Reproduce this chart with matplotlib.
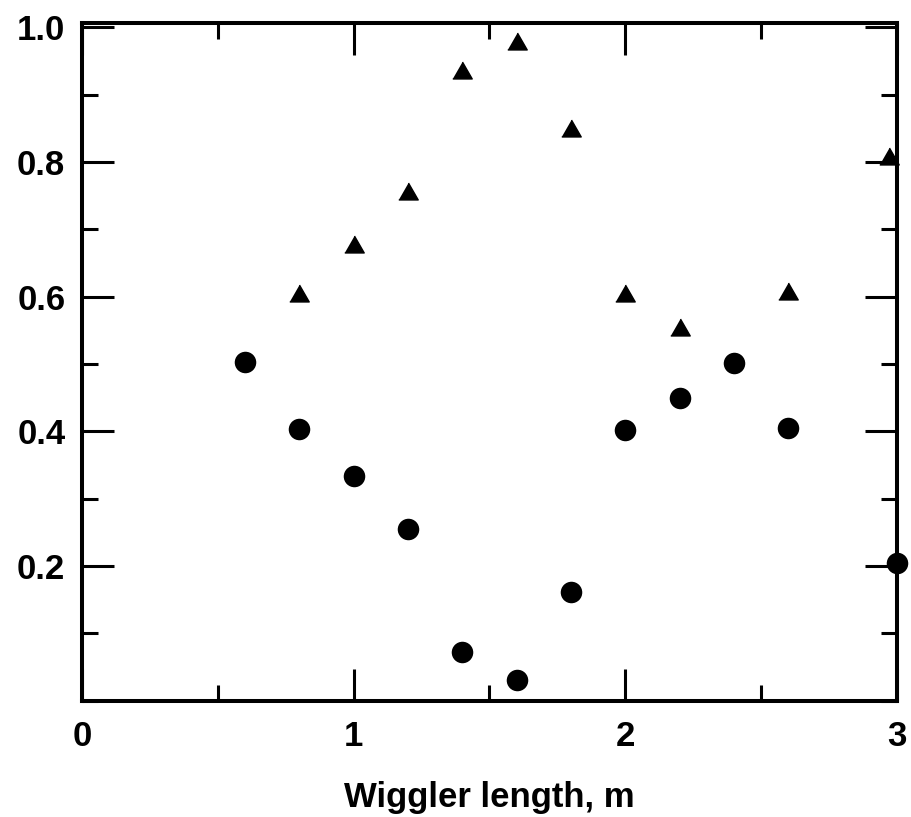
import matplotlib
matplotlib.use("Agg")
import matplotlib.pyplot as plt
from matplotlib.ticker import MultipleLocator, FixedLocator

# Data
tri_x = [0.8, 1.0, 1.2, 1.4, 1.6, 1.8, 2.0, 2.2, 2.6, 2.97]
tri_y = [0.606, 0.678, 0.757, 0.936, 0.979, 0.850, 0.605, 0.555, 0.608, 0.809]
circ_x = [0.6, 0.8, 1.0, 1.2, 1.4, 1.6, 1.8, 2.0, 2.2, 2.4, 2.6, 3.0]
circ_y = [0.503, 0.403, 0.333, 0.255, 0.072, 0.030, 0.161, 0.402, 0.450, 0.501, 0.405, 0.205]

x_major = [0, 1, 2, 3]
x_labels = ["0", "1", "2", "3"]
y_major = [0.2, 0.4, 0.6, 0.8, 1.0]
y_labels = ["0.2", "0.4", "0.6", "0.8", "1.0"]
x_label = "Wiggler length, m"

plt.rcParams['font.family'] = ['Liberation Sans', 'DejaVu Sans']

fig = plt.figure(figsize=(9.11, 8.17), dpi=100)
ax = fig.add_axes([0.090, 0.1424, 0.8946, 0.8295])

tri_marker = [(-1, -0.87), (1, -0.87), (0, 0.87)]
ax.plot(tri_x, tri_y, linestyle='none', marker=tri_marker, markersize=14,
        color='black', markeredgewidth=1, clip_on=False, zorder=3)
ax.plot(circ_x, circ_y, linestyle='none', marker='o', markersize=15.5,
        color='black', markeredgewidth=0, clip_on=False, zorder=3)

ax.set_xlim(0, 3)
ax.set_ylim(0, 1.0065)

ax.xaxis.set_major_locator(FixedLocator(x_major))
ax.set_xticklabels(x_labels)
ax.xaxis.set_minor_locator(MultipleLocator(0.5))
ax.yaxis.set_major_locator(FixedLocator(y_major))
ax.set_yticklabels(y_labels)
ax.yaxis.set_minor_locator(MultipleLocator(0.1))

ax.tick_params(which='both', direction='in', top=True, right=True, width=2.2, color='black')
ax.tick_params(which='major', length=23)
ax.tick_params(which='minor', length=11.5)
ax.tick_params(axis='x', which='major', pad=14, labelsize=25)
ax.tick_params(axis='y', which='major', pad=12, labelsize=25)
for lab in ax.get_xticklabels() + ax.get_yticklabels():
    lab.set_fontweight('bold')

for s in ax.spines.values():
    s.set_linewidth(2.9)

ax.set_xlabel(x_label, fontsize=25, fontweight='bold', labelpad=20)

fig.savefig("out.png", dpi=100, facecolor='white')
